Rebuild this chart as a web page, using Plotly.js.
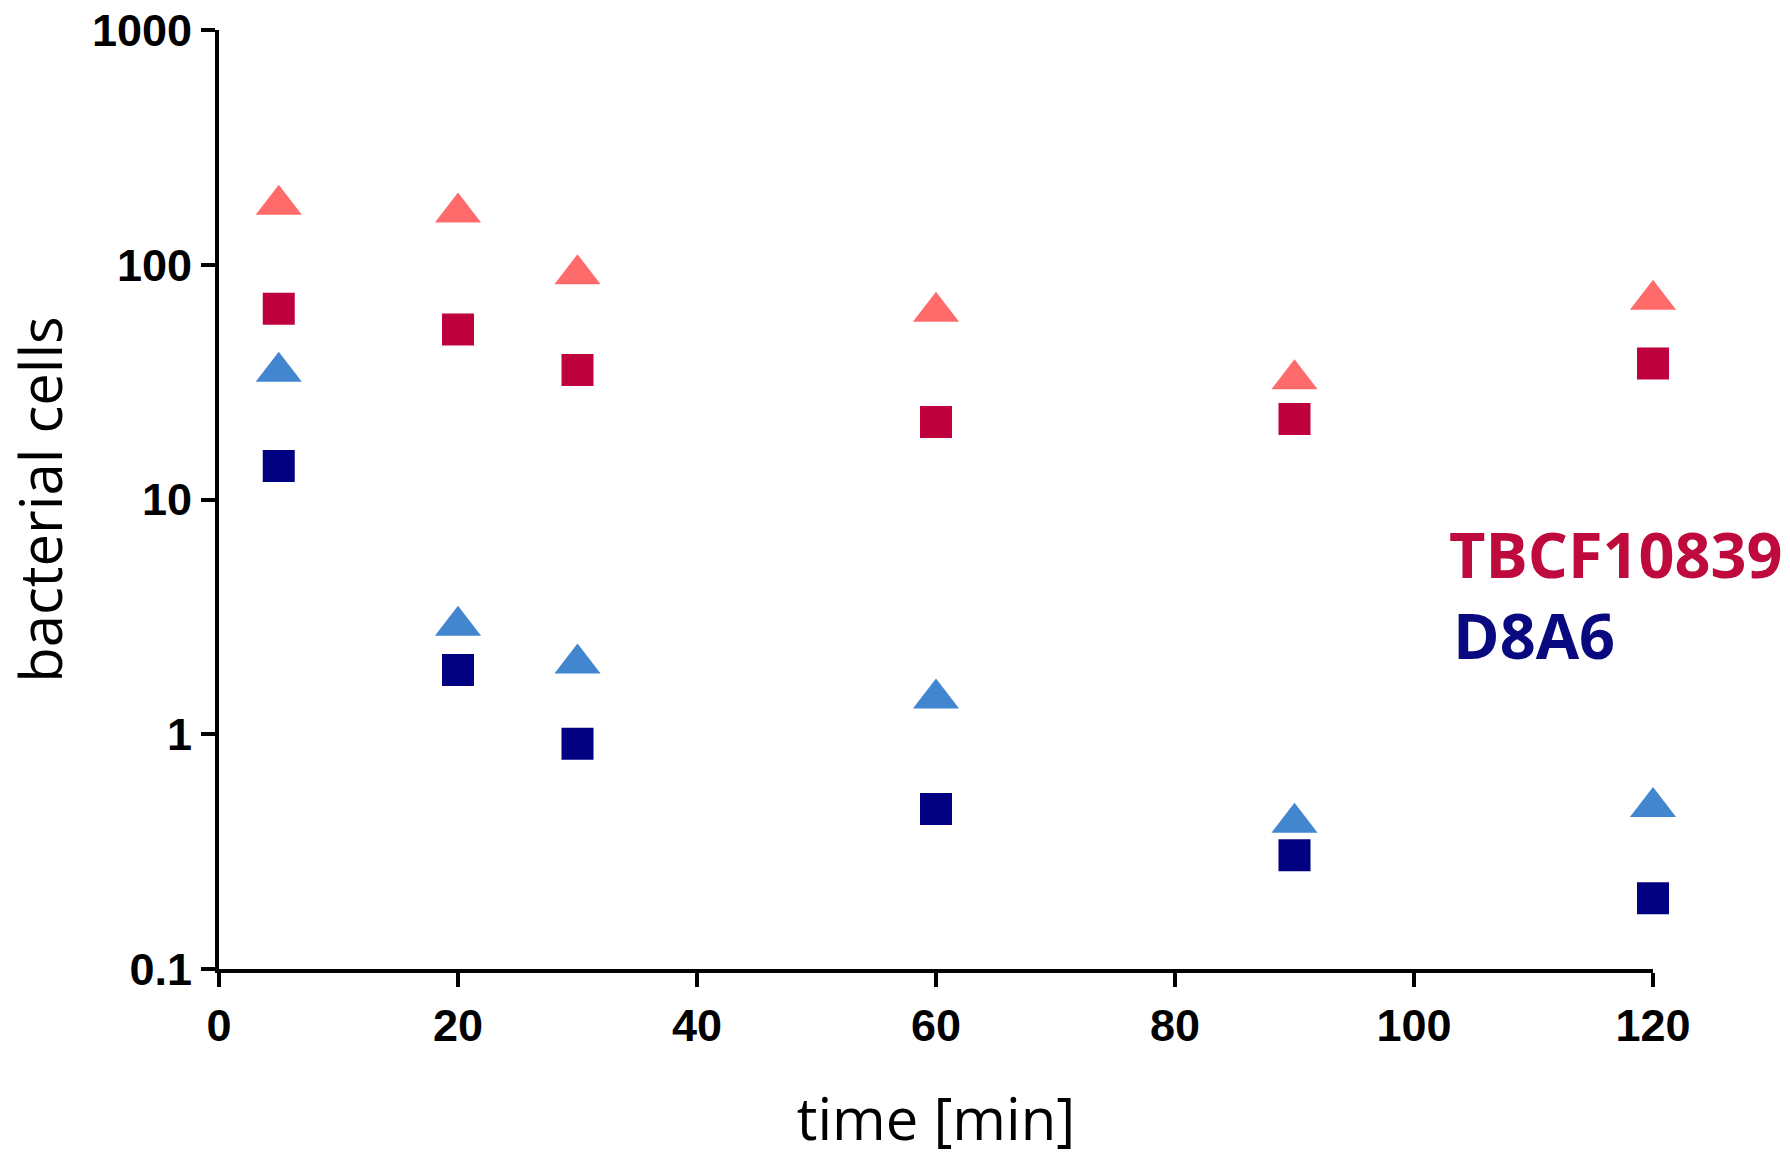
<!DOCTYPE html>
<html>
<head>
<meta charset="utf-8">
<script src="https://cdn.plot.ly/plotly-3.0.1.min.js"></script>
<style>
  html, body { margin: 0; padding: 0; background: #fff; }
  #plot { width: 1790px; height: 1157px; }
</style>
</head>
<body>
<div id="plot"></div>
<script>
// sampling times [min]
var times = [5, 20, 30, 60, 90, 120];

// TBCF10839 (red) and D8A6 (blue), triangles and squares
var tbcfTri = [180, 167, 91, 63, 32.5, 71];
var tbcfSq = [65, 53, 35.6, 21.4, 22, 38];
var d8a6Tri = [35, 2.9, 2.0, 1.42, 0.42, 0.49];
var d8a6Sq = [13.9, 1.88, 0.91, 0.48, 0.305, 0.2];

var yTicks = [0.1, 1, 10, 100, 1000];
var yTickText = ["0.1", "1", "10", "100", "1000"];

function pts(y, symbol, color, size) {
  return {
    x: times,
    y: y,
    mode: "markers",
    type: "scatter",
    cliponaxis: false,
    marker: {symbol: symbol, color: color, size: size, line: {width: 0}}
  };
}

var traces = [
  pts(tbcfTri, "triangle-up", "#ff6b6b", 40),
  pts(tbcfSq, "square", "#be003c", 32),
  pts(d8a6Tri, "triangle-up", "#4286d0", 40),
  pts(d8a6Sq, "square", "#000080", 32)
];

var tickFont = {family: "Arial, 'Liberation Sans', sans-serif", size: 45, color: "#000", weight: "bold"};
var titleFont = {family: "'Open Sans', sans-serif", size: 58, color: "#000"};

var layout = {
  width: 1790,
  height: 1157,
  margin: {l: 219, r: 137, t: 30, b: 188},
  paper_bgcolor: "#fff",
  plot_bgcolor: "#fff",
  showlegend: false,
  xaxis: {
    range: [0, 120],
    tickvals: [0, 20, 40, 60, 80, 100, 120],
    showgrid: false,
    zeroline: false,
    showline: true,
    linecolor: "#000",
    linewidth: 4,
    ticks: "outside",
    ticklen: 14,
    tickwidth: 4,
    tickcolor: "#000",
    tickfont: tickFont,
    ticklabeloverflow: "allow",
    title: {text: "time [min]", font: titleFont, standoff: 52}
  },
  yaxis: {
    type: "log",
    range: [-1, 3],
    tickvals: yTicks,
    ticktext: yTickText,
    showgrid: false,
    zeroline: false,
    showline: true,
    linecolor: "#000",
    linewidth: 4,
    ticks: "outside",
    ticklen: 14,
    tickwidth: 4,
    tickcolor: "#000",
    tickfont: tickFont,
    ticklabeloverflow: "allow",
    title: {text: "bacterial cells", font: titleFont, standoff: 42}
  },
  annotations: [
    {
      text: "TBCF10839", xref: "paper", yref: "paper", x: 0.856, y: 0.442,
      xanchor: "left", yanchor: "middle", showarrow: false,
      font: {family: "'Open Sans', sans-serif", size: 63, color: "#be0a3c", weight: "bold"}
    },
    {
      text: "D8A6", xref: "paper", yref: "paper", x: 0.859, y: 0.356,
      xanchor: "left", yanchor: "middle", showarrow: false,
      font: {family: "'Open Sans', sans-serif", size: 63, color: "#0a0a80", weight: "bold"}
    }
  ]
};

Plotly.newPlot("plot", traces, layout, {displayModeBar: false, staticPlot: true});
</script>
</body>
</html>
